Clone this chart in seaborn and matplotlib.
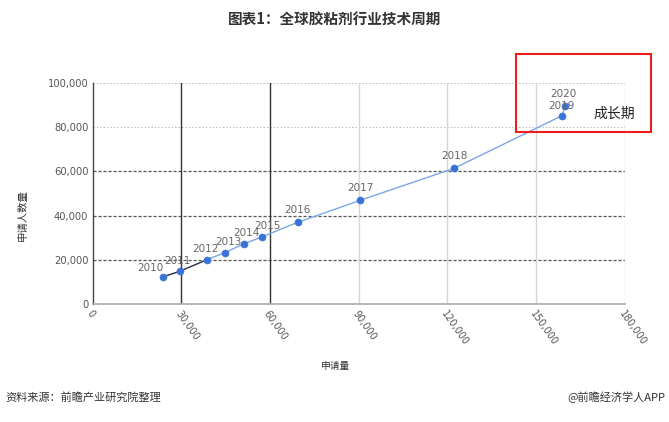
import matplotlib.pyplot as plt
import matplotlib.patches as patches
import pandas as pd
import seaborn as sns

# 全球胶粘剂行业技术周期 (申请量 vs 申请人数量)
years = ["2010", "2011", "2012", "2013", "2014", "2015", "2016",
         "2017", "2018", "2019", "2020"]
applications = [23700, 29500, 38700, 44700, 51100, 57200, 69400,
                90500, 122300, 158900, 159600]
applicants = [12300, 14900, 20100, 23300, 27200, 30400, 37000,
              46900, 61400, 85200, 89300]

x_ticks = [0, 30000, 60000, 90000, 120000, 150000, 180000]
y_ticks = [0, 20000, 40000, 60000, 80000, 100000]

data = pd.DataFrame({"year": years, "x": applications, "y": applicants})

sns.set_style("white")
plt.rcParams["font.family"] = ["Noto Sans CJK SC", "DejaVu Sans"]

fig = plt.figure(figsize=(6.69, 4.22), dpi=100)
ax = fig.add_axes([0.1383, 0.279, 0.7957, 0.525])

# grid
for y in y_ticks[1:]:
    if y <= 60000:
        ax.axhline(y, color="#555555", linewidth=0.9, linestyle=(0, (2.5, 1.5)), zorder=1)
    else:
        ax.axhline(y, color="#bbbbbb", linewidth=0.7, linestyle=(0, (1.5, 2)), zorder=1)
for x in x_ticks[1:]:
    if x in (30000, 60000):
        ax.axvline(x, color="#333333", linewidth=1.0, zorder=1)
    else:
        ax.axvline(x, color="#d6d6d6", linewidth=1.0, zorder=1)

sns.lineplot(data=data, x="x", y="y", ax=ax, color="#7aa7e6", linewidth=1.0,
             sort=False, zorder=2)
sns.lineplot(data=data.iloc[:3], x="x", y="y", ax=ax, color="#333333",
             linewidth=0.9, sort=False, zorder=2)
sns.scatterplot(data=data, x="x", y="y", ax=ax, color="#3a73d6", s=26,
                edgecolor="#3a73d6", linewidth=0.4, zorder=3)

# year labels
offsets = {"2010": (-9, 3), "2011": (-2, 4), "2012": (-1, 4), "2013": (3, 4),
           "2014": (2, 4), "2015": (4, 4), "2016": (0, 5), "2017": (0, 5),
           "2018": (0, 5), "2019": (-1, 3), "2020": (-1, 5)}
for _, r in data.iterrows():
    dx, dy = offsets[r["year"]]
    ax.annotate(r["year"], (r["x"], r["y"]), xytext=(dx, dy), textcoords="offset points",
                ha="center", va="bottom", fontsize=7.5, color="#666666",
                family=["DejaVu Sans"])

ax.set_xlim(0, 180000)
ax.set_ylim(0, 100000)
ax.set_xticks(x_ticks)
ax.set_yticks(y_ticks)
ax.set_xticklabels([f"{v:,}" for v in x_ticks], rotation=-55, ha="left",
                   rotation_mode="anchor", fontsize=7, color="#555555",
                   family=["DejaVu Sans"])
ax.set_yticklabels([f"{v:,}" for v in y_ticks], fontsize=7.2, color="#555555",
                   family=["DejaVu Sans"])
ax.tick_params(length=0, pad=3)
for s in ["top", "right"]:
    ax.spines[s].set_visible(False)
ax.spines["left"].set_color("#444444")
ax.spines["left"].set_linewidth(1.0)
ax.spines["bottom"].set_color("#aaaaaa")
ax.spines["bottom"].set_linewidth(1.2)

ax.set_xlabel("")
ax.set_ylabel("")
fig.text(0.502, 0.133, "申请量", ha="center", va="center", fontsize=7, color="#333333")
fig.text(0.034, 0.49, "申请人数量", ha="center", va="center", rotation=90,
         fontsize=7.5, color="#333333")

# title and footer
fig.text(0.5, 0.952, "图表1：全球胶粘剂行业技术周期", ha="center", va="center",
         fontsize=10.5, fontweight="bold", color="#333333")
fig.text(0.008, 0.059, "资料来源：前瞻产业研究院整理", ha="left", va="center",
         fontsize=8, color="#333333")
fig.text(0.995, 0.059, "@前瞻经济学人APP", ha="right", va="center",
         fontsize=8, color="#333333")

# growth-stage box
fig.patches.append(patches.Rectangle((0.771, 0.6865), 0.2018, 0.1855,
                                     transform=fig.transFigure, fill=False,
                                     edgecolor="#ee1c1c", linewidth=1.5))
fig.text(0.918, 0.73, "成长期", ha="center", va="center", fontsize=10, color="#222222")

fig.savefig("out.png", dpi=100)
